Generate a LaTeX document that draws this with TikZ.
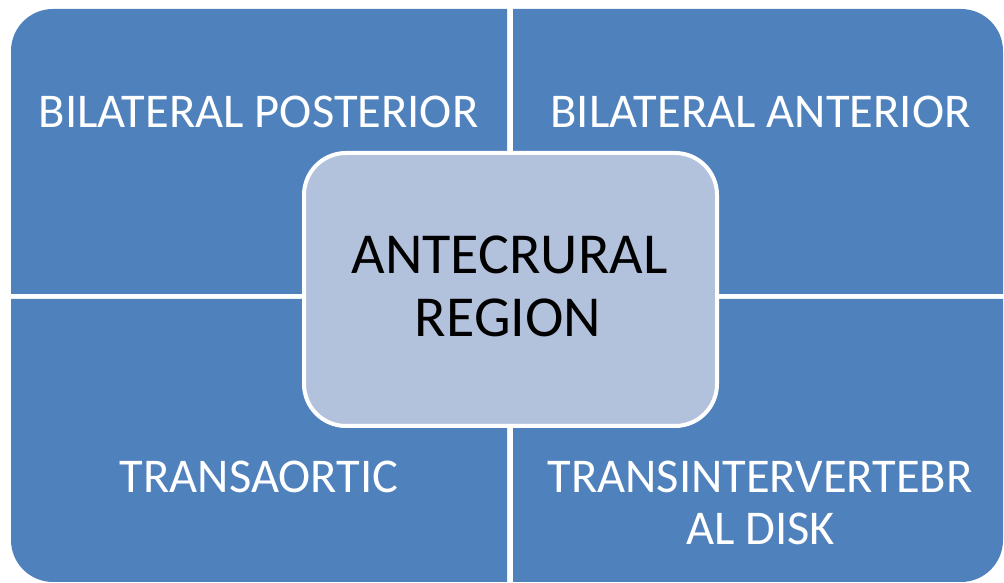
\documentclass[tikz,border=0pt]{standalone}
\usepackage{fontspec}
\setmainfont{Carlito}
\definecolor{quad}{HTML}{4F81BD}
\definecolor{centerfill}{HTML}{B3C2DC}
\begin{document}
\begin{tikzpicture}[x=1pt,y=1pt,
  quadshape/.style={fill=quad},
  outerlabel/.style={text=white,font=\fontsize{48.5}{52}\selectfont,anchor=base,inner sep=0pt},
  centerlabel/.style={text=black,font=\fontsize{58}{63}\selectfont,anchor=base,inner sep=0pt},
  hubbox/.style={draw=white,line width=4pt,fill=centerfill,rounded corners=42pt,
    minimum width=413pt,minimum height=273pt,inner sep=0pt}]
\useasboundingbox (0,0) rectangle (1004,583);
% quadrants
\fill[quadshape] (507,289) -- (11,289) -- (11,532) arc[start angle=180,end angle=90,radius=42] -- (507,574) -- cycle;
\fill[quadshape] (513,289) -- (513,574) -- (961,574) arc[start angle=90,end angle=0,radius=42] -- (1003,289) -- cycle;
\fill[quadshape] (507,284) -- (11,284) -- (11,43) arc[start angle=180,end angle=270,radius=42] -- (507,1) -- cycle;
\fill[quadshape] (513,284) -- (1003,284) -- (1003,43) arc[start angle=0,end angle=-90,radius=42] -- (513,1) -- cycle;
% labels
\node[outerlabel] (bp) at (258.5,455) {BILATERAL POSTERIOR};
\node[outerlabel] (ba) at (760.5,455) {BILATERAL ANTERIOR};
\node[outerlabel] (ta) at (259,90) {TRANSAORTIC};
\node[outerlabel] (tiv1) at (760,90) {TRANSINTERVERTEBR};
\node[outerlabel] (tiv2) at (760.5,38) {AL DISK};
% hub
\node[hubbox] (hub) at (510.5,293.5) {};
\node[centerlabel] (hub1) at (509.5,309) {ANTECRURAL};
\node[centerlabel] (hub2) at (508,246) {REGION};
\end{tikzpicture}
\end{document}
